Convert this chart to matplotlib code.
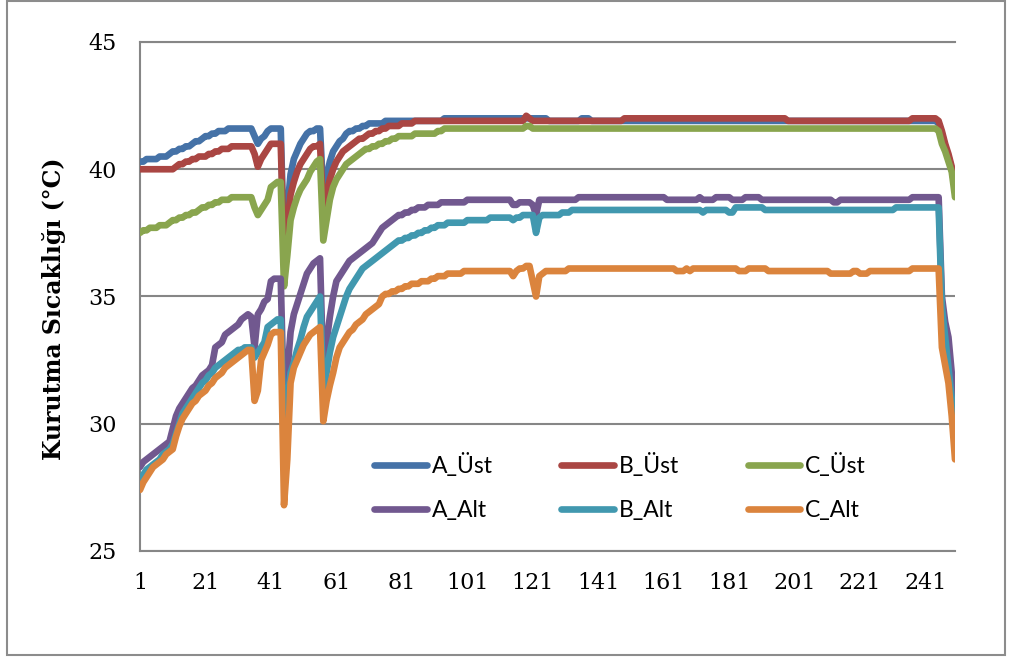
import matplotlib
matplotlib.use("Agg")
import matplotlib.pyplot as plt
from matplotlib.patches import Rectangle

# Kurutma sıcaklıkları, ölçüm sırası 1..250
a_ust = ([40.3, 40.3, 40.4, 40.4, 40.4, 40.4, 40.5, 40.5, 40.5, 40.6, 40.7, 40.7,
          40.8, 40.8, 40.9, 40.9, 41.0, 41.1, 41.1, 41.2, 41.3, 41.3, 41.4, 41.4,
          41.5, 41.5, 41.5, 41.6, 41.6, 41.6, 41.6, 41.6, 41.6, 41.6, 41.6]
         + [41.3, 41.0, 41.2, 41.3, 41.5, 41.6, 41.6, 41.6, 41.6]
         + [36.8, 38.4, 39.8, 40.4, 40.7, 41.0, 41.2, 41.4, 41.5, 41.5, 41.6, 41.6]
         + [39.0, 39.7, 40.3, 40.7, 40.9, 41.1, 41.2, 41.4, 41.5, 41.5, 41.6, 41.6,
            41.7, 41.7, 41.8, 41.8, 41.8, 41.8, 41.8, 41.9, 41.9, 41.9, 41.9, 41.9]
         + [41.9] * 13 + [42.0] * 32 + [41.9] * 10 + [42.0] * 3 + [41.9] * 106
         + [41.8, 41.4, 40.9, 40.5, 40.0, 39.3])

b_ust = ([40.0] * 11
         + [40.1, 40.2, 40.2, 40.3, 40.3, 40.4, 40.4, 40.5, 40.5, 40.5, 40.6, 40.6,
            40.7, 40.7, 40.8, 40.8, 40.8]
         + [40.9] * 7
         + [40.6, 40.1, 40.4, 40.6, 40.8, 41.0, 41.0, 41.0, 41.0]
         + [36.5, 37.9, 39.0, 39.5, 39.9, 40.2, 40.4, 40.6, 40.8, 40.9, 40.9, 41.0]
         + [38.3, 39.0, 39.6, 40.0, 40.3, 40.5, 40.7, 40.8, 40.9, 41.0, 41.1, 41.2,
            41.2, 41.3, 41.4, 41.4, 41.5, 41.5, 41.6, 41.6, 41.7, 41.7, 41.7, 41.7,
            41.8, 41.8, 41.8, 41.8]
         + [41.9] * 34 + [42.1, 42.0] + [41.9] * 28 + [42.0] * 50 + [41.9] * 38
         + [42.0] * 8
         + [41.9, 41.5, 41.0, 40.6, 40.1, 39.2])

c_ust = ([37.5, 37.6, 37.6, 37.7, 37.7, 37.7, 37.8, 37.8, 37.8, 37.9, 38.0, 38.0,
          38.1, 38.1, 38.2, 38.2, 38.3, 38.3, 38.4, 38.5, 38.5, 38.6, 38.6, 38.7,
          38.7, 38.8, 38.8, 38.8]
         + [38.9] * 7
         + [38.5, 38.2, 38.4, 38.6, 38.8, 39.3, 39.4, 39.5, 39.5]
         + [35.4, 36.6, 38.0, 38.5, 38.9, 39.2, 39.4, 39.6, 39.9, 40.1, 40.3, 40.4]
         + [37.2, 38.0, 38.8, 39.3, 39.6, 39.8, 40.0, 40.2, 40.3, 40.4, 40.5, 40.6,
            40.7, 40.8, 40.8, 40.9, 40.9, 41.0, 41.0, 41.1, 41.1, 41.2, 41.2, 41.3,
            41.3, 41.3, 41.3, 41.3, 41.4, 41.4, 41.4, 41.4, 41.4, 41.4, 41.4, 41.5,
            41.5]
         + [41.6] * 25 + [41.7, 41.7] + [41.6] * 124
         + [41.5, 41.0, 40.7, 40.3, 39.9, 38.9])

a_alt = ([28.3, 28.5, 28.6, 28.7, 28.8, 28.9, 29.0, 29.1, 29.2, 29.3, 29.8, 30.3,
          30.6, 30.8, 31.0, 31.2, 31.4, 31.5, 31.7, 31.9, 32.0, 32.1, 32.3, 33.0,
          33.1, 33.2, 33.5, 33.6, 33.7, 33.8, 33.9, 34.1, 34.2, 34.3, 34.2]
         + [33.0, 34.3, 34.5, 34.8, 34.9, 35.6, 35.7, 35.7, 35.7]
         + [30.5, 32.0, 33.6, 34.3, 34.7, 35.1, 35.5, 35.9, 36.1, 36.3, 36.4, 36.5]
         + [32.0, 33.2, 34.2, 35.0, 35.6, 35.8, 36.0, 36.2, 36.4, 36.5, 36.6, 36.7,
            36.8, 36.9]
         + [37.0, 37.1, 37.3, 37.5, 37.7, 37.8, 37.9, 38.0, 38.1, 38.2, 38.2, 38.3,
            38.3, 38.4, 38.4, 38.5, 38.5, 38.5, 38.6, 38.6, 38.6, 38.6]
         + [38.7] * 8 + [38.8] * 14 + [38.6, 38.6, 38.7] + [38.7, 38.7, 38.7, 38.6]
         + [38.2] + [38.8] * 12 + [38.9] * 27 + [38.8] * 10 + [38.9] + [38.8] * 4
         + [38.9] * 5 + [38.8] * 4 + [38.9] * 5 + [38.8] * 22 + [38.7, 38.7]
         + [38.8] * 22 + [38.9] * 9
         + [35.0, 34.0, 33.4, 32.0, 30.0])

b_alt = ([27.8, 28.0, 28.2, 28.3, 28.4, 28.5, 28.6, 28.8, 28.9, 29.0, 29.2, 29.6,
          30.0, 30.4, 30.6, 30.8, 31.0, 31.2, 31.4, 31.6, 31.7, 31.9, 32.0, 32.2,
          32.3, 32.4, 32.5, 32.6, 32.7, 32.8, 32.9, 32.9, 33.0, 33.0, 33.0]
         + [32.6, 32.8, 33.0, 33.2, 33.8, 33.9, 34.0, 34.1, 34.1]
         + [29.3, 30.8, 32.0, 32.4, 32.9, 33.3, 33.8, 34.2, 34.4, 34.6, 34.8, 35.0]
         + [31.3, 32.0, 32.8, 33.4, 33.8, 34.2, 34.6, 35.0, 35.3, 35.5, 35.7, 35.9,
            36.1, 36.2, 36.3, 36.4, 36.5, 36.6, 36.7, 36.8, 36.9, 37.0, 37.1, 37.2,
            37.2, 37.3, 37.3, 37.4, 37.4, 37.5, 37.5, 37.6, 37.6, 37.7, 37.7, 37.8,
            37.8, 37.8]
         + [37.9] * 6 + [38.0] * 7 + [38.1] * 7 + [38.0]
         + [38.1, 38.1, 38.2, 38.2, 38.2, 38.2] + [37.5]
         + [38.1, 38.2, 38.2, 38.2, 38.2, 38.2, 38.2]
         + [38.3, 38.3, 38.3, 38.4, 38.4]
         + [38.4] * 38 + [38.3] + [38.4] * 7 + [38.3, 38.3] + [38.5] * 9
         + [38.4] * 40 + [38.5] * 14
         + [34.6, 33.4, 32.2, 31.0, 29.6])

c_alt = ([27.4, 27.7, 27.9, 28.1, 28.3, 28.4, 28.5, 28.6, 28.8, 28.9, 29.0, 29.5,
          29.9, 30.2, 30.4, 30.6, 30.8, 30.9, 31.1, 31.2, 31.3, 31.5, 31.6, 31.8,
          31.9, 32.0, 32.2, 32.3, 32.4, 32.5, 32.6, 32.7, 32.8, 32.9, 32.9]
         + [30.9, 31.3, 32.5, 32.8, 33.1, 33.5, 33.6, 33.6, 33.6]
         + [26.8, 28.6, 31.6, 32.2, 32.5, 32.8, 33.1, 33.3, 33.5, 33.6, 33.7, 33.8]
         + [30.1, 30.9, 31.5, 32.0, 32.6, 33.0, 33.2, 33.4, 33.6, 33.7, 33.9, 34.0,
            34.1, 34.3, 34.4, 34.5, 34.6, 34.7, 35.0, 35.1, 35.1, 35.2, 35.2, 35.3,
            35.3, 35.4, 35.4, 35.5, 35.5, 35.5, 35.6, 35.6, 35.6, 35.7, 35.7, 35.8,
            35.8, 35.8, 35.9, 35.9, 35.9, 35.9, 35.9, 36.0, 36.0, 36.0, 36.0, 36.0]
         + [36.0] * 10 + [35.8] + [36.0] + [36.1, 36.1, 36.2, 36.2] + [35.6]
         + [35.0] + [35.8, 35.9] + [36.0] * 7 + [36.1] * 33 + [36.0] * 3
         + [36.1] + [36.0] + [36.1] * 14 + [36.0] * 3 + [36.1] * 6 + [36.0] * 19
         + [35.9] * 7 + [36.0, 36.0] + [35.9] * 3 + [36.0] * 13 + [36.1] * 9
         + [33.0, 32.3, 31.6, 30.3, 28.6])

series = [
    ("A_Üst", a_ust, "#4572A7"),
    ("A_Alt", a_alt, "#71588F"),
    ("B_Üst", b_ust, "#AA4643"),
    ("B_Alt", b_alt, "#4198AF"),
    ("C_Üst", c_ust, "#89A54E"),
    ("C_Alt", c_alt, "#DB843D"),
]
draw_order = ["A_Üst", "B_Üst", "C_Üst", "A_Alt", "B_Alt", "C_Alt"]
x_ticks = [1, 21, 41, 61, 81, 101, 121, 141, 161, 181, 201, 221, 241]
y_ticks = [25, 30, 35, 40, 45]

fig = plt.figure(figsize=(10.09, 6.59), dpi=100)
ax = fig.add_axes([140 / 1009, 1 - 551 / 659, 815 / 1009, 509 / 659])

lines = {}
for name in draw_order:
    ys = [s for s in series if s[0] == name][0]
    xs = range(1, len(ys[1]) + 1)
    ln, = ax.plot(xs, ys[1], color=ys[2], lw=4.8, label=name,
                  solid_joinstyle="round", solid_capstyle="round", zorder=3)
    lines[name] = ln

ax.set_xlim(1, 250)
ax.set_ylim(25, 45)
ax.set_xticks(x_ticks)
ax.set_yticks(y_ticks)
ax.tick_params(length=0, labelsize=16)
ax.tick_params(axis="y", pad=17)
ax.tick_params(axis="x", pad=15)
for lab in ax.get_xticklabels() + ax.get_yticklabels():
    lab.set_fontfamily("DejaVu Serif")
ax.grid(axis="y", color="#868686", lw=1.5, zorder=1)
ax.set_axisbelow(True)
for side in ("top", "right"):
    ax.spines[side].set_visible(False)
for side in ("left", "bottom"):
    ax.spines[side].set_color("#868686")
    ax.spines[side].set_linewidth(1.5)
# top gridline at 45 closes the box
ax.axhline(45, color="#868686", lw=1.5, zorder=1, clip_on=False)

fig.text(54 / 1009, 0.531, "Kurutma Sıcaklığı (°C)", rotation=90,
         ha="center", va="center", fontsize=17, fontweight="bold",
         family="DejaVu Serif")

leg = ax.legend([lines[s[0]] for s in series], [s[0] for s in series],
                ncol=3, loc="center", bbox_to_anchor=(620 / 1009, 1 - 487 / 659),
                bbox_transform=fig.transFigure, frameon=False,
                prop={"family": "Lato", "size": 16.5},
                handlelength=2.3, handletextpad=0.2, columnspacing=3.0,
                labelspacing=1.0, borderpad=0)

fig.patches.append(Rectangle((7 / 1009, 1 - 655 / 659), 998 / 1009, 654 / 659,
                             transform=fig.transFigure, fill=False,
                             edgecolor="#8c8c8c", lw=1.5))

fig.savefig("out.png", dpi=100)
